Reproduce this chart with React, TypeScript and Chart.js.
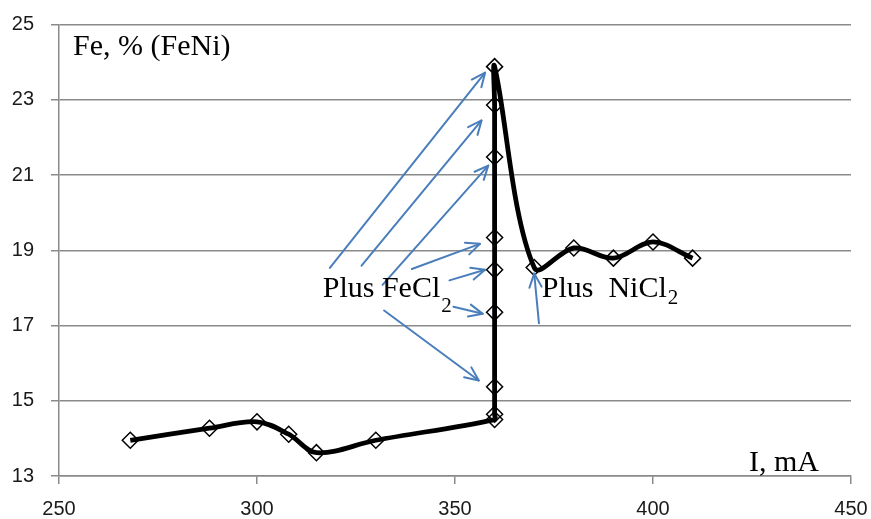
import React, { useEffect, useRef } from "react";
import { Chart, registerables } from "chart.js";

Chart.register(...registerables);

// Current, mA
const currentMA = [268, 288, 300, 308, 315, 330, 360, 360, 360, 360, 360, 360, 360, 360, 360, 370, 380, 390, 400, 410];
// Fe content, % in FeNi
const feContent = [13.95, 14.27, 14.44, 14.11, 13.62, 13.95, 14.5, 14.64, 15.37, 17.35, 18.48, 19.34, 21.48, 22.86, 23.88, 18.54, 19.06, 18.79, 19.22, 18.79];

const xTicks = [250, 300, 350, 400, 450];
const yTicks = [13, 15, 17, 19, 21, 23, 25];

const yTitle = "Fe, % (FeNi)";
const xTitle = "I, mA";

// Annotation arrows, in data units: [fromX, fromY, toX, toY]
const feArrows = [
  [318.4, 18.53, 357.6, 23.72],
  [326.4, 18.59, 356.7, 22.45],
  [331.7, 18.08, 358.4, 21.25],
  [339.1, 18.5, 356.3, 19.17],
  [348.6, 18.2, 357.6, 18.48],
  [349.6, 17.5, 357.0, 17.31],
  [332.1, 17.4, 356.0, 15.54],
];
const niArrows = [[371.2, 17.06, 370.0, 18.38]];

// Annotation labels: [text, subscript, x, y (baseline), subscript drop px]
const labels: [string, string, number, number, number][] = [
  ["Plus FeCl", "2", 316.6, 17.77, 15.5],
  ["Plus  NiCl", "2", 371.9, 17.77, 7],
];

const SERIF = "'Liberation Serif', 'Times New Roman', serif";
const SANS = "'Liberation Sans', Arial, sans-serif";
const GRID = "#8a8a8a";
const ARROW = "#4A7EBB";

const annotationPlugin = {
  id: "annotations",
  afterDatasetsDraw(chart: any) {
    const { ctx, chartArea, scales } = chart;
    const xs = scales.x;
    const ys = scales.y;
    ctx.save();
    // arrows
    ctx.strokeStyle = ARROW;
    ctx.lineWidth = 2;
    ctx.lineCap = "round";
    ctx.lineJoin = "round";
    for (const a of [...feArrows, ...niArrows]) {
      const x0 = xs.getPixelForValue(a[0]);
      const y0 = ys.getPixelForValue(a[1]);
      const x1 = xs.getPixelForValue(a[2]);
      const y1 = ys.getPixelForValue(a[3]);
      ctx.beginPath();
      ctx.moveTo(x0, y0);
      ctx.lineTo(x1, y1);
      ctx.stroke();
      const ang = Math.atan2(y1 - y0, x1 - x0);
      const hl = 15;
      const ha = 0.42;
      ctx.beginPath();
      ctx.moveTo(x1 - hl * Math.cos(ang - ha), y1 - hl * Math.sin(ang - ha));
      ctx.lineTo(x1, y1);
      ctx.lineTo(x1 - hl * Math.cos(ang + ha), y1 - hl * Math.sin(ang + ha));
      ctx.stroke();
    }
    // labels
    ctx.fillStyle = "#000";
    ctx.textBaseline = "alphabetic";
    ctx.textAlign = "left";
    for (const [t, sub, lx, ly, drop] of labels) {
      const px = xs.getPixelForValue(lx);
      const py = ys.getPixelForValue(ly);
      ctx.font = `30px ${SERIF}`;
      ctx.fillText(t, px, py);
      const w = ctx.measureText(t).width;
      ctx.font = `21px ${SERIF}`;
      ctx.fillText(sub, px + w + 1, py + drop);
    }
    // axis titles inside plot
    ctx.font = `30px ${SERIF}`;
    ctx.textAlign = "left";
    ctx.fillText(yTitle, chartArea.left + 14, chartArea.top + 30.5);
    ctx.textAlign = "right";
    ctx.fillText(xTitle, chartArea.right - 32, chartArea.bottom - 5.5);
    ctx.restore();
  },
};

export default function App() {
  const ref = useRef<HTMLCanvasElement | null>(null);
  useEffect(() => {
    document.body.style.margin = "0";
    const canvas = ref.current;
    if (!canvas) return;
    const points = currentMA.map((x, i) => ({ x, y: feContent[i] }));
    const chart = new Chart(canvas, {
      type: "line",
      data: {
        datasets: [
          {
            data: points,
            borderColor: "#000",
            borderWidth: 4.8,
            tension: 0.35,
            pointStyle: "rectRot",
            pointRadius: 8,
            pointBackgroundColor: "rgba(0,0,0,0)",
            pointBorderColor: "#000",
            pointBorderWidth: 1.5,
            clip: false as any,
          },
        ],
      },
      options: {
        responsive: false,
        animation: false,
        layout: { autoPadding: false, padding: { top: 24.5, right: 20, left: 0, bottom: 0 } },
        plugins: { legend: { display: false }, tooltip: { enabled: false } },
        scales: {
          x: {
            type: "linear",
            min: 250,
            max: 450,
            afterBuildTicks: (s: any) => {
              s.ticks = xTicks.map((v) => ({ value: v }));
            },
            afterFit: (s: any) => {
              s.height = 43;
              s.paddingLeft = 0;
              s.paddingRight = 0;
            },
            grid: { drawOnChartArea: false, drawTicks: true, tickLength: 8, color: GRID, lineWidth: 1.5 },
            border: { display: true, color: GRID, width: 1.5 },
            ticks: { font: { family: SANS, size: 20 }, color: "#1a1a1a", padding: 13, maxRotation: 0, autoSkip: false },
          },
          y: {
            type: "linear",
            min: 13,
            max: 25,
            afterBuildTicks: (s: any) => {
              s.ticks = yTicks.map((v) => ({ value: v }));
            },
            afterFit: (s: any) => {
              s.width = 59;
              s.paddingTop = 0;
              s.paddingBottom = 0;
            },
            grid: { drawOnChartArea: true, drawTicks: true, tickLength: 8, color: GRID, lineWidth: 1.5 },
            border: { display: true, color: GRID, width: 1.5 },
            ticks: { font: { family: SANS, size: 20 }, color: "#1a1a1a", padding: 17, autoSkip: false },
          },
        },
      },
      plugins: [annotationPlugin],
    });
    return () => chart.destroy();
  }, []);
  return (
    <div style={{ position: "absolute", left: 0, top: 0, width: 871, height: 519, background: "#fff" }}>
      <canvas ref={ref} width={871} height={519} style={{ display: "block" }} />
    </div>
  );
}
